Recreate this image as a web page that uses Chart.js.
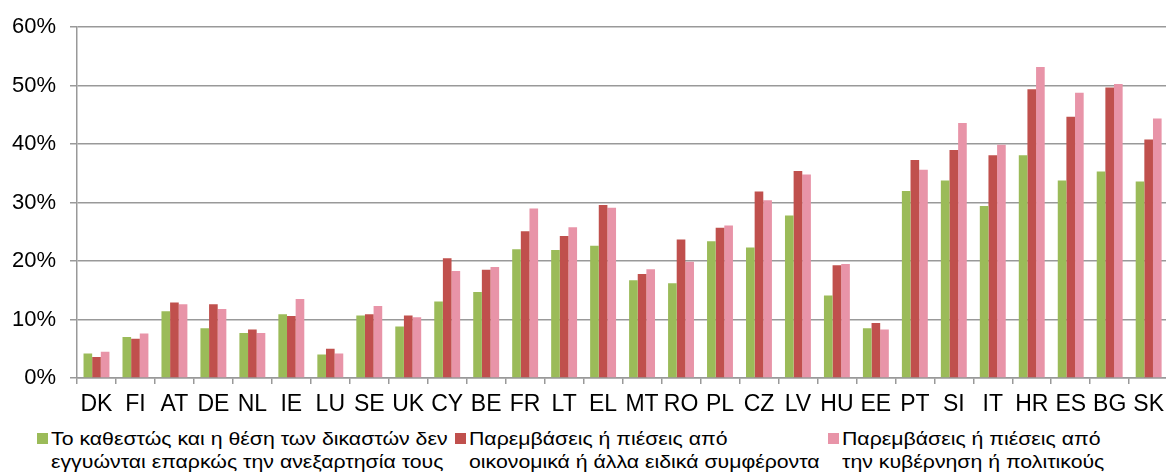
<!DOCTYPE html>
<html>
<head>
<meta charset="utf-8">
<script src="https://cdn.jsdelivr.net/npm/chart.js@4.4.1/dist/chart.umd.min.js"></script>
<style>
    html, body { margin: 0; padding: 0; background: #fff; width: 1166px; height: 472px; overflow: hidden; }
    body { position: relative; font-family: "Liberation Sans", Arial, sans-serif; }
    #wrap { position: absolute; left: 0; top: 0; width: 1171px; height: 425px; }
    .leg-text { position: absolute; top: 427px; font-size: 18.5px; line-height: 23px; color: #000; white-space: nowrap;
                transform: scaleX(1.15); transform-origin: 0 0; }
    .leg-box { position: absolute; top: 433px; width: 11px; height: 11px; }
</style>
</head>
<body>
<div id="wrap"><canvas id="chart" width="1171" height="425"></canvas></div>
<div id="legend"></div>
<script>
/* Ανεξαρτησία δικαστών - λόγοι (%) */

const countries = ["DK", "FI", "AT", "DE", "NL", "IE", "LU", "SE", "UK", "CY", "BE", "FR", "LT", "EL",
    "MT", "RO", "PL", "CZ", "LV", "HU", "EE", "PT", "SI", "IT", "HR", "ES", "BG", "SK"];

const statusJudges = [4.2, 7.0, 11.4, 8.5, 7.7, 10.9, 4.0, 10.7, 8.8, 13.1, 14.7, 22.0, 21.9, 22.6,
    16.7, 16.2, 23.4, 22.3, 27.8, 14.1, 8.5, 32.0, 33.8, 29.4, 38.1, 33.8, 35.3, 33.6];

const econPressure = [3.6, 6.7, 12.9, 12.6, 8.3, 10.6, 5.0, 10.9, 10.7, 20.5, 18.5, 25.1, 24.3, 29.6,
    17.8, 23.7, 25.7, 31.9, 35.4, 19.3, 9.4, 37.3, 39.0, 38.1, 49.4, 44.7, 49.7, 40.8];

const govPressure = [4.5, 7.6, 12.6, 11.8, 7.7, 13.5, 4.2, 12.3, 10.4, 18.3, 19.0, 29.0, 25.8, 29.1,
    18.6, 19.9, 26.1, 30.4, 34.8, 19.5, 8.3, 35.6, 43.6, 39.9, 53.2, 48.8, 50.3, 44.4];

const seriesNames = [
    ["Το καθεστώς και η θέση των δικαστών δεν", "εγγυώνται επαρκώς την ανεξαρτησία τους"],
    ["Παρεμβάσεις ή πιέσεις από", "οικονομικά ή άλλα ειδικά συμφέροντα"],
    ["Παρεμβάσεις ή πιέσεις από", "την κυβέρνηση ή πολιτικούς"]
];

const yTicks = [0, 10, 20, 30, 40, 50, 60];

const colors = ['#9bbb59', '#c0504d', '#e894a8'];
const legendX = [37, 455, 828]; // θέση τετραγώνου λεζάντας

Chart.defaults.font.family = "'Liberation Sans', Arial, sans-serif";
Chart.defaults.color = '#000';

function renderLegend() {
    const legend = document.getElementById('legend');
    seriesNames.forEach((lines, i) => {
        const box = document.createElement('div');
        box.className = 'leg-box';
        box.style.left = legendX[i] + 'px';
        box.style.background = colors[i];
        legend.appendChild(box);

        const txt = document.createElement('div');
        txt.className = 'leg-text';
        txt.style.left = (legendX[i] + 14) + 'px';
        txt.innerHTML = lines.join('<br>');
        legend.appendChild(txt);
    });
}

function initChart() {
    const ctx = document.getElementById('chart').getContext('2d');
    const allSeries = [statusJudges, econPressure, govPressure];

    new Chart(ctx, {
        type: 'bar',
        data: {
            labels: countries,
            datasets: allSeries.map((vals, i) => ({
                label: seriesNames[i].join(' '),
                data: vals,
                backgroundColor: colors[i],
                borderWidth: 0,
                categoryPercentage: 0.665,
                barPercentage: 1.0
            }))
        },
        options: {
            responsive: false,
            animation: false,
            layout: { padding: { top: 22, left: 0, right: 0, bottom: 0 } },
            plugins: { legend: { display: false }, tooltip: { enabled: false } },
            scales: {
                x: {
                    grid: { offset: true, drawOnChartArea: false, color: '#999', lineWidth: 1.5, tickLength: 6 },
                    border: { color: '#999', width: 1.5 },
                    ticks: { font: { size: 23 }, color: '#000', padding: 7, maxRotation: 0, autoSkip: false },
                    afterFit: (scale) => { scale.height = 47; }
                },
                y: {
                    min: yTicks[0],
                    max: yTicks[yTicks.length - 1],
                    afterBuildTicks: (scale) => { scale.ticks = yTicks.map(v => ({ value: v })); },
                    grid: { color: '#999', lineWidth: 1.5, tickLength: 7 },
                    border: { color: '#999', width: 1.5 },
                    ticks: { font: { size: 22 }, color: '#000', padding: 14, callback: (v) => v + '%' },
                    afterFit: (scale) => { scale.width = 77; }
                }
            }
        }
    });
}

renderLegend();
initChart();
</script>
</body>
</html>
